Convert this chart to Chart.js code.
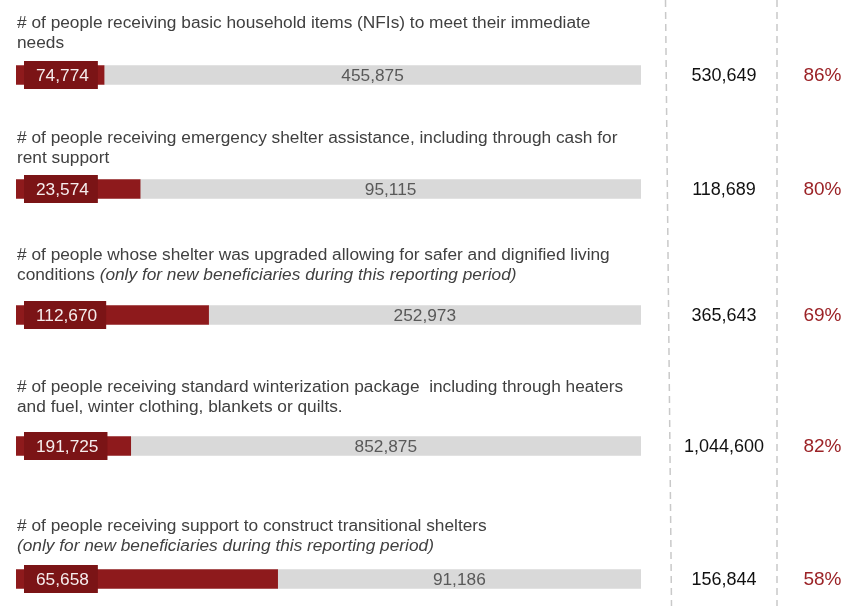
<!DOCTYPE html>
<html>
<head>
<meta charset="utf-8">
<script src="https://cdn.jsdelivr.net/npm/chart.js@4"></script>
<style>
  html, body { margin:0; padding:0; background:#ffffff; }
  #page { position:relative; width:852px; height:608px; overflow:hidden; background:#fff; font-family:"Liberation Sans", Arial, sans-serif; }
  .title { position:absolute; left:17px; width:640px; font-size:17.3px; line-height:20px; color:#404040; white-space:pre; }
  .title i { font-style:italic; }
  canvas.row { position:absolute; left:0; }
  #grid { position:absolute; left:0; top:0; }
</style>
</head>
<body>
<div id="page">
  <canvas id="grid" width="852" height="608"></canvas>
</div>
<script>
// ---- data ----
const titleLines = [
  ["# of people receiving basic household items (NFIs) to meet their immediate", "needs"],
  ["# of people receiving emergency shelter assistance, including through cash for", "rent support"],
  ["# of people whose shelter was upgraded allowing for safer and dignified living", "conditions"],
  ["# of people receiving standard winterization package  including through heaters", "and fuel, winter clothing, blankets or quilts."],
  ["# of people receiving support to construct transitional shelters", ""]
];
const titleNotes = [
  "",
  "",
  "(only for new beneficiaries during this reporting period)",
  "",
  "(only for new beneficiaries during this reporting period)"
];
const reached = [74774, 23574, 112670, 191725, 65658];
const remaining = [455875, 95115, 252973, 852875, 91186];
const totals = [530649, 118689, 365643, 1044600, 156844];
const percents = [86, 80, 69, 82, 58];

// ---- layout (not data) ----
const barCenters = [74.5, 188.5, 314.5, 446, 578.5];
const titleTops = [12, 127, 244, 376, 515];
const ROW_H = 40;

const fmt = v => v.toLocaleString('en-US');
const page = document.getElementById('page');

// dashed separators
(function(){
  const g = document.getElementById('grid').getContext('2d');
  g.strokeStyle = '#c9c9c9';
  g.lineWidth = 1.5;
  g.setLineDash([7,5]);
  g.beginPath(); g.moveTo(665.5, 0); g.lineTo(671.5, 606); g.stroke();
  g.beginPath(); g.moveTo(777, 0); g.lineTo(777, 606); g.stroke();
})();

const labelPlugin = {
  id: 'rowLabels',
  afterDatasetsDraw(chart) {
    const i = chart.options.rowIndex;
    const ctx = chart.ctx;
    const b0 = chart.getDatasetMeta(0).data[0];
    const b1 = chart.getDatasetMeta(1).data[0];
    ctx.save();
    ctx.textBaseline = 'middle';
    // reached label box
    ctx.font = '17.3px "Liberation Sans", Arial, sans-serif';
    const t = fmt(reached[i]);
    const w = ctx.measureText(t).width;
    const bx = b0.base + 8;
    ctx.fillStyle = '#7b1416';
    ctx.fillRect(bx, b0.y - 14, w + 21, 28);
    ctx.fillStyle = '#f6eded';
    ctx.textAlign = 'left';
    ctx.fillText(t, bx + 12, b0.y + 1);
    // remaining label
    ctx.fillStyle = '#595959';
    ctx.textAlign = 'center';
    ctx.fillText(fmt(remaining[i]), (b1.base + b1.x) / 2, b1.y + 1);
    // total
    ctx.font = '18px "Liberation Sans", Arial, sans-serif';
    ctx.fillStyle = '#111111';
    ctx.fillText(fmt(totals[i]), 724, b0.y + 1);
    // percent
    ctx.font = '19px "Liberation Sans", Arial, sans-serif';
    ctx.fillStyle = '#9b2226';
    ctx.fillText(percents[i] + '%', 822.5, b0.y + 1);
    ctx.restore();
  }
};

for (let i = 0; i < totals.length; i++) {
  // title text
  const d = document.createElement('div');
  d.className = 'title';
  d.style.top = titleTops[i] + 'px';
  const l1 = document.createElement('div');
  l1.textContent = titleLines[i][0];
  const l2 = document.createElement('div');
  l2.textContent = titleLines[i][1] + (titleLines[i][1] && titleNotes[i] ? ' ' : '');
  if (titleNotes[i]) {
    const it = document.createElement('i');
    it.textContent = titleNotes[i];
    l2.appendChild(it);
  }
  d.appendChild(l1); d.appendChild(l2);
  page.appendChild(d);

  // bar chart for the row
  const c = document.createElement('canvas');
  c.className = 'row';
  c.width = 852; c.height = ROW_H;
  c.style.top = (barCenters[i] - ROW_H / 2) + 'px';
  page.appendChild(c);

  new Chart(c, {
    type: 'bar',
    data: {
      labels: [titleLines[i].join(' ') + (titleNotes[i] ? ' ' + titleNotes[i] : '')],
      datasets: [
        { label: 'Reached', data: [reached[i]], backgroundColor: '#8e1a1c', barThickness: 19, borderWidth: 0 },
        { label: 'Remaining', data: [remaining[i]], backgroundColor: '#d9d9d9', barThickness: 19, borderWidth: 0 }
      ]
    },
    options: {
      rowIndex: i,
      indexAxis: 'y',
      responsive: false,
      animation: false,
      devicePixelRatio: 1,
      layout: { padding: { left: 16, right: 852 - 641, top: 0, bottom: 0 } },
      scales: {
        x: { stacked: true, display: false, min: 0, max: totals[i] },
        y: { stacked: true, display: false }
      },
      plugins: { legend: { display: false }, tooltip: { enabled: false } }
    },
    plugins: [labelPlugin]
  });
}
</script>
</body>
</html>
